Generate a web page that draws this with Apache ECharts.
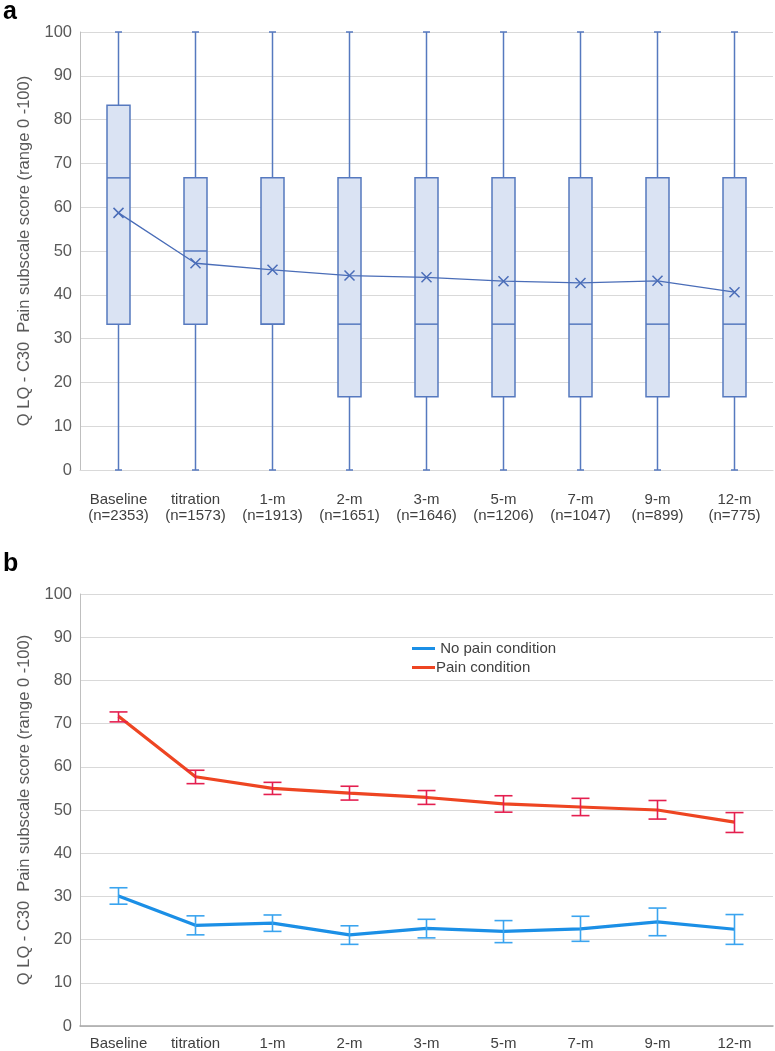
<!DOCTYPE html>
<html><head><meta charset="utf-8">
<script src="https://cdn.jsdelivr.net/npm/echarts@6/dist/echarts.min.js"></script>
<style>html,body{margin:0;padding:0;background:#fff}#c{width:775px;height:1051px}</style>
</head><body><div id="c"></div>
<script>
const categories = ['Baseline','titration','1-m','2-m','3-m','5-m','7-m','9-m','12-m'];
const sampleSizes = ['2353','1573','1913','1651','1646','1206','1047','899','775'];
// box plot: [min, Q1, median, Q3, max]
const boxStats = [
  [0, 33.3, 66.7, 83.3, 100],
  [0, 33.3, 50.0, 66.7, 100],
  [0, 33.3, 33.3, 66.7, 100],
  [0, 16.7, 33.3, 66.7, 100],
  [0, 16.7, 33.3, 66.7, 100],
  [0, 16.7, 33.3, 66.7, 100],
  [0, 16.7, 33.3, 66.7, 100],
  [0, 16.7, 33.3, 66.7, 100],
  [0, 16.7, 33.3, 66.7, 100]
];
const boxMeans = [58.7, 47.2, 45.7, 44.4, 44.0, 43.1, 42.7, 43.2, 40.6];
const painMean = [71.7, 57.7, 55.0, 53.9, 52.9, 51.4, 50.7, 50.0, 47.2];
const painLow  = [70.4, 56.1, 53.6, 52.3, 51.3, 49.5, 48.7, 47.9, 44.8];
const painHigh = [72.7, 59.2, 56.4, 55.5, 54.5, 53.3, 52.7, 52.2, 49.4];
const noPainMean = [30.1, 23.3, 23.8, 21.1, 22.6, 21.9, 22.5, 24.1, 22.4];
const noPainLow  = [28.2, 21.1, 21.9, 18.9, 20.4, 19.3, 19.6, 20.9, 18.9];
const noPainHigh = [32.0, 25.5, 25.7, 23.2, 24.7, 24.4, 25.4, 27.3, 25.8];
const yTitle = 'Q LQ - C30  Pain subscale score (range 0 -100)';

const FONT = "'Liberation Sans', Arial, sans-serif";
const TXT = '#595959';
const BOXC = '#5679bf';

function renderBox(params, api) {
  const x = api.value(0);
  const pMin = api.coord([x, api.value(1)]);
  const pQ1 = api.coord([x, api.value(2)]);
  const pMed = api.coord([x, api.value(3)]);
  const pQ3 = api.coord([x, api.value(4)]);
  const pMax = api.coord([x, api.value(5)]);
  const hw = 11.5, cw = 3.5;
  const st = {stroke: BOXC, lineWidth: 1.5, fill: null};
  const cx = pQ1[0];
  return {type: 'group', children: [
    {type: 'line', shape: {x1: cx, y1: pMin[1], x2: cx, y2: pQ1[1]}, style: st},
    {type: 'line', shape: {x1: cx, y1: pQ3[1], x2: cx, y2: pMax[1]}, style: st},
    {type: 'line', shape: {x1: cx - cw, y1: pMin[1], x2: cx + cw, y2: pMin[1]}, style: st},
    {type: 'line', shape: {x1: cx - cw, y1: pMax[1], x2: cx + cw, y2: pMax[1]}, style: st},
    {type: 'rect', shape: {x: cx - hw, y: pQ3[1], width: 2 * hw, height: pQ1[1] - pQ3[1]},
      style: {fill: '#dae3f3', stroke: BOXC, lineWidth: 1.5}},
    {type: 'line', shape: {x1: cx - hw, y1: pMed[1], x2: cx + hw, y2: pMed[1]}, style: st}
  ]};
}
function makeErr(color) {
  return function (params, api) {
    const x = api.value(0);
    const lo = api.coord([x, api.value(1)]);
    const hi = api.coord([x, api.value(2)]);
    const cw = 9;
    const st = {stroke: color, lineWidth: 1.6, fill: null};
    return {type: 'group', children: [
      {type: 'line', shape: {x1: lo[0], y1: lo[1], x2: hi[0], y2: hi[1]}, style: st},
      {type: 'line', shape: {x1: lo[0] - cw, y1: lo[1], x2: lo[0] + cw, y2: lo[1]}, style: st},
      {type: 'line', shape: {x1: hi[0] - cw, y1: hi[1], x2: hi[0] + cw, y2: hi[1]}, style: st}
    ]};
  };
}

const boxData = boxStats.map((s, i) => [i].concat(s));
const painErr = painLow.map((v, i) => [i, v, painHigh[i]]);
const noPainErr = noPainLow.map((v, i) => [i, v, noPainHigh[i]]);
const topLabels = categories.map((c, i) => c + '\n(n=' + sampleSizes[i] + ')');

const yAxisCommon = {
  type: 'value', min: 0, max: 100, interval: 10,
  name: yTitle, nameLocation: 'middle', nameGap: 47,
  nameTextStyle: {color: TXT, fontSize: 16.5, fontFamily: FONT},
  axisLabel: {color: TXT, fontSize: 16.5, fontFamily: FONT, margin: 8},
  axisLine: {show: true, lineStyle: {color: '#bfbfbf', width: 1}},
  axisTick: {show: false},
  splitLine: {lineStyle: {color: '#d9d9d9', width: 1.2}}
};

const chart = echarts.init(document.getElementById('c'), null, {renderer: 'canvas'});
chart.setOption({
  animation: false,
  backgroundColor: '#fff',
  textStyle: {fontFamily: FONT},
  graphic: [
    {type: 'text', left: 3, top: 0, style: {text: 'a', font: 'bold 25px ' + FONT, fill: '#000'}},
    {type: 'text', left: 3, top: 552, style: {text: 'b', font: 'bold 25px ' + FONT, fill: '#000'}}
  ],
  legend: {
    data: ['No pain condition', 'Pain condition'],
    orient: 'vertical', left: 407, top: 636, itemGap: 4,
    itemWidth: 23, itemHeight: 3, icon: 'rect',
    formatter: n => n === 'No pain condition' ? ' ' + n : n,
    textStyle: {color: '#404040', fontSize: 15, fontFamily: FONT, padding: [0, 0, 0, -4]}
  },
  grid: [
    {left: 80, right: 2, top: 32, height: 438},
    {left: 80, right: 2, top: 594, height: 433}
  ],
  xAxis: [
    {type: 'category', gridIndex: 0, data: topLabels,
      axisLine: {lineStyle: {color: '#d9d9d9', width: 1.2}}, axisTick: {show: false},
      axisLabel: {color: '#404040', fontSize: 15, fontFamily: FONT, margin: 22, lineHeight: 16, interval: 0}},
    {type: 'category', gridIndex: 1, data: categories,
      axisLine: {lineStyle: {color: '#a6a6a6', width: 1.5}}, axisTick: {show: false},
      axisLabel: {color: '#404040', fontSize: 15, fontFamily: FONT, margin: 10, interval: 0}}
  ],
  yAxis: [
    Object.assign({gridIndex: 0}, yAxisCommon),
    Object.assign({gridIndex: 1}, yAxisCommon)
  ],
  series: [
    {type: 'custom', name: 'box', xAxisIndex: 0, yAxisIndex: 0, renderItem: renderBox,
      data: boxData, encode: {x: 0, y: [1, 2, 3, 4, 5]}, z: 2},
    {type: 'line', name: 'mean', xAxisIndex: 0, yAxisIndex: 0, data: boxMeans, z: 5,
      symbol: 'path://M0,0L10,10M10,0L0,10', symbolSize: 10,
      itemStyle: {color: 'none', borderColor: '#4a6db8', borderWidth: 1.5},
      lineStyle: {color: '#4a6db8', width: 1.3}},
    {type: 'line', name: 'No pain condition', xAxisIndex: 1, yAxisIndex: 1, data: noPainMean,
      symbol: 'none', color: '#1b8fe6', lineStyle: {color: '#1b8fe6', width: 3.2}, z: 3},
    {type: 'line', name: 'Pain condition', xAxisIndex: 1, yAxisIndex: 1, data: painMean,
      symbol: 'none', color: '#ee4522', lineStyle: {color: '#ee4522', width: 3.2}, z: 3},
    {type: 'custom', name: 'noPainErr', xAxisIndex: 1, yAxisIndex: 1, renderItem: makeErr('#3aa4ef'),
      data: noPainErr, encode: {x: 0, y: [1, 2]}, z: 4},
    {type: 'custom', name: 'painErr', xAxisIndex: 1, yAxisIndex: 1, renderItem: makeErr('#e41f4f'),
      data: painErr, encode: {x: 0, y: [1, 2]}, z: 4}
  ]
});
</script></body></html>
